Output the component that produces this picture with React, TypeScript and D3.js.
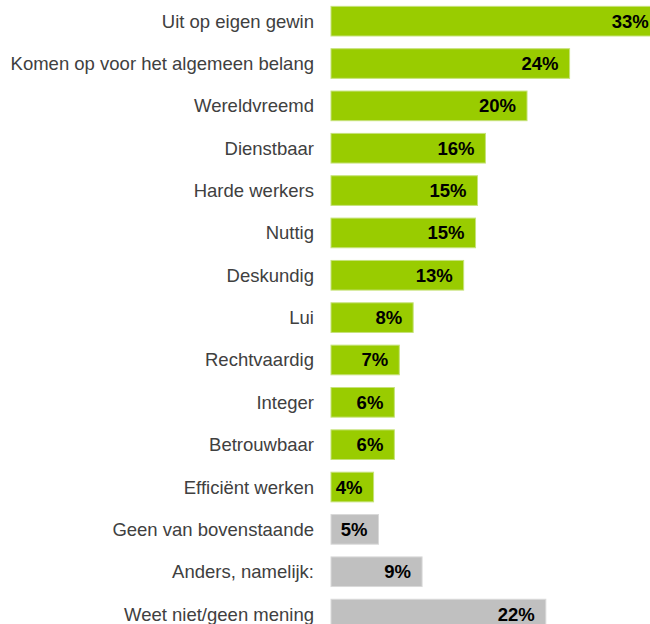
import React from "react";
import * as d3 from "d3";

const categories = [
  "Uit op eigen gewin",
  "Komen op voor het algemeen belang",
  "Wereldvreemd",
  "Dienstbaar",
  "Harde werkers",
  "Nuttig",
  "Deskundig",
  "Lui",
  "Rechtvaardig",
  "Integer",
  "Betrouwbaar",
  "Efficiënt werken",
  "Geen van bovenstaande",
  "Anders, namelijk:",
  "Weet niet/geen mening",
];
const values = [33.2, 24.1, 19.8, 15.6, 14.8, 14.6, 13.4, 8.3, 6.9, 6.4, 6.4, 4.3, 4.8, 9.2, 21.7];
const valueLabels = ["33%", "24%", "20%", "16%", "15%", "15%", "13%", "8%", "7%", "6%", "6%", "4%", "5%", "9%", "22%"];
const groups = ["pos", "pos", "pos", "pos", "pos", "pos", "pos", "pos", "pos", "pos", "pos", "pos", "other", "other", "other"];

const W = 650;
const H = 624;

export default function App() {
  const x = d3.scaleLinear().domain([0, 10]).range([331, 430]);
  const y = d3
    .scaleBand<string>()
    .domain(categories)
    .range([0, 42.35 * categories.length])
    .paddingInner(0.3)
    .paddingOuter(0.15);
  const color = d3.scaleOrdinal<string, string>().domain(["pos", "other"]).range(["#99cc00", "#c0c0c0"]);
  const edge = d3.scaleOrdinal<string, string>().domain(["pos", "other"]).range(["#c6e27a", "#d9d9d9"]);

  return (
    <svg
      width={W}
      height={H}
      style={{ position: "absolute", left: 0, top: 0, display: "block" }}
      fontFamily="'Liberation Sans', Arial, sans-serif"
    >
      <rect x={0} y={0} width={W} height={H} fill="#ffffff" />
      {categories.map((c, i) => {
        const yy = y(c)!;
        const bw = y.bandwidth();
        const xe = x(values[i]);
        return (
          <g key={c}>
            <rect
              x={x(0)}
              y={yy}
              width={xe - x(0)}
              height={bw}
              fill={color(groups[i])}
              stroke={edge(groups[i])}
              strokeWidth={1}
            />
            <text
              x={314}
              y={yy + bw / 2}
              dy="0.35em"
              textAnchor="end"
              fontSize={18.5}
              fill="#404040"
            >
              {c}
            </text>
            <text
              x={xe - 11}
              y={yy + bw / 2}
              dy="0.35em"
              textAnchor="end"
              fontSize={18.5}
              fontWeight="bold"
              fill="#000000"
            >
              {valueLabels[i]}
            </text>
          </g>
        );
      })}
    </svg>
  );
}
